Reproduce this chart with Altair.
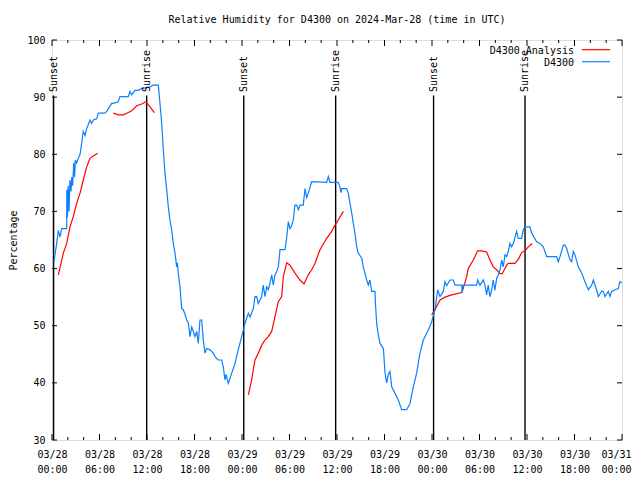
import altair as alt
import pandas as pd

# ---------------- data (hours since 03/28 00:00 UTC, relative humidity %) ----------------
obs_day1 = [(0.25,61.2),(0.59,64.4),(0.80,66.7),(1.01,65.5),(1.23,67.0),(1.86,67.0),(1.87,73.8),(1.95,69.0),
            (2.05,74.5),(2.15,70.0),(2.27,75.5),(2.40,73.5),(2.50,76.0),(2.60,74.5),(2.75,78.5),(2.85,76.0),
            (2.95,79.0),(3.12,78.5),(3.32,79.3),(3.54,80.0),(3.75,81.9),(3.95,84.0),(4.17,83.3),(4.38,84.5),
            (4.59,85.2),(4.80,86.0),(5.01,85.4),(5.22,86.0),(5.65,86.2),(5.85,87.2),(6.69,87.2),(6.91,87.5),
            (7.54,88.9),(7.74,88.9),(8.37,89.2),(8.59,90.1),(9.64,90.1),(9.85,91.0),(10.07,90.4),(10.48,91.2),
            (10.90,91.2),(11.33,91.5),(12.38,91.8),(12.76,92.1),(13.43,92.1),(13.64,88.9),(13.86,85.4),
            (14.06,80.8),(14.27,76.7),(14.49,73.8),(14.69,70.8),(14.90,68.5),(15.12,66.8),(15.32,64.4),
            (15.54,62.7),(15.75,60.3),(15.83,61.0),(15.95,59.2),(16.17,56.8),(16.38,53.0),(16.58,52.8),
            (16.80,52.0),(17.01,51.0),(17.22,50.5),(17.43,48.1),(17.65,49.8),(17.85,49.0),(18.06,48.1),
            (18.28,49.0),(18.48,46.9),(18.69,51.0),(18.91,51.0),(19.11,47.5),(19.33,45.2),(19.54,46.0),
            (19.96,45.8),(20.37,45.2),(20.59,44.6),(20.97,44.0),(21.43,44.0),(21.64,42.8),(21.85,40.5),
            (21.98,41.5),(22.27,39.9),(22.70,41.7),(23.12,43.4),(23.53,45.8),(23.96,48.1)]
obs_day2 = [(24.38,50.4),(24.80,52.2),(25.01,51.5),(25.43,53.0),(25.64,55.1),(25.85,55.1),(26.06,53.9),
            (26.49,55.1),(26.69,57.1),(26.90,55.1),(27.12,56.8),(27.32,56.3),(27.54,57.5),(27.75,58.9),
            (27.95,57.1),(28.17,58.9),(28.38,59.5),(28.59,60.3),(28.80,63.3),(29.43,63.3),(29.65,65.5),
            (29.85,68.2),(30.06,67.0),(30.27,67.5),(30.48,68.5),(30.69,71.1),(30.91,71.1),(31.11,70.3),
            (31.32,71.1),(31.74,71.1),(31.96,74.0),(32.17,72.4),(32.37,73.2),(32.80,75.2),(34.70,75.1),
            (34.90,76.1),(35.11,75.1),(36.16,75.1),(36.37,74.3),(36.50,73.3),(36.60,74.0),(37.22,74.0),
            (37.43,73.2),(37.64,71.4),(37.86,69.7),(38.06,67.9),(38.27,66.2),(38.49,63.8),(38.69,62.7),
            (39.12,61.8),(39.32,60.3),(39.53,59.2),(39.75,58.0),(39.95,57.1),(40.16,58.0),(40.38,56.0),
            (40.80,56.0),(40.86,53.9),(41.01,50.4),(41.22,48.4),(41.43,46.9),(41.86,46.0),(42.07,41.7),
            (42.28,40.0),(42.48,41.5),(42.69,42.0),(42.91,39.3),(43.32,38.2),(43.74,37.0),(44.17,35.3),
            (44.80,35.3),(45.22,36.4),(45.64,39.3),(46.06,41.7),(46.48,45.2),(46.90,47.5),(47.33,48.7),
            (47.62,49.5),(47.96,50.7)]
obs_day3 = [(48.38,52.8),(48.72,56.3),(49.01,55.1),(49.43,56.0),(49.64,57.7),(49.85,57.0),(50.27,58.0),
            (50.69,58.0),(50.90,57.1),(51.75,57.1),(51.82,55.8),(51.95,57.1),(53.64,57.1),(53.76,58.0),
            (54.06,57.1),(54.48,58.0),(54.69,57.1),(54.90,55.4),(55.10,57.1),(55.32,55.1),(55.53,56.2),
            (55.74,58.0),(55.95,56.2),(56.17,58.3),(56.38,58.9),(56.59,59.8),(56.80,61.5),(57.00,60.3),
            (57.22,62.4),(57.43,62.1),(57.64,63.0),(57.85,64.4),(58.06,63.8),(58.27,64.4),(58.69,66.5),
            (58.90,65.3),(59.32,65.3),(59.53,66.8),(59.74,67.3),(60.37,67.3),(60.59,66.2),(61.22,64.7),
            (61.64,64.4),(62.06,63.8),(62.48,62.1),(63.75,62.1),(63.95,61.2),(64.17,62.1),(64.59,64.1),
            (64.80,64.1),(65.01,63.5),(65.43,61.5),(65.64,61.2),(65.85,63.0),(66.06,62.4),(66.48,60.3),
            (66.91,59.2),(67.32,57.7),(67.75,56.3),(68.17,57.1),(68.38,58.0),(68.80,56.2),(69.01,55.1),
            (69.43,56.0),(69.64,56.0),(69.85,55.1),(70.27,56.0),(70.48,55.1),(70.69,56.0),(71.11,56.3),
            (71.53,56.5),(71.74,57.7),(71.96,57.5)]

ana_seg1 = [(0.80,58.9),(1.43,62.7),(1.86,64.4),(2.27,67.3),(2.69,69.1),(3.12,71.4),(3.54,73.2),
            (3.95,75.5),(4.38,77.8),(4.80,79.3),(5.22,79.7),(5.77,80.2)]
ana_seg2 = [(7.74,87.2),(8.37,86.9),(9.00,86.9),(9.64,87.3),(10.07,87.6),(10.70,88.5),(11.33,88.8),
            (11.87,89.2),(12.38,88.3),(12.92,87.3)]
ana_seg3 = [(24.80,37.9),(25.22,40.5),(25.43,42.3),(25.64,44.0),(26.06,45.2),(26.49,46.6),(26.90,47.5),
            (27.32,48.1),(27.75,49.0),(28.17,51.6),(28.59,54.2),(29.01,55.1),(29.22,58.6),(29.65,61.0),
            (30.06,60.6),(30.69,59.2),(31.32,58.0),(31.83,57.3),(32.37,58.9),(32.80,59.8),(33.22,60.9),
            (33.85,63.3),(34.70,65.3),(35.33,66.5),(35.75,67.6),(36.16,68.5),(36.80,70.0)]
ana_seg4 = [(47.96,51.9),(48.38,52.8),(49.01,54.5),(49.64,55.0),(50.48,55.4),(51.75,55.8),(51.95,56.6),
            (52.38,58.6),(52.58,60.0),(53.22,61.5),(53.76,63.1),(54.27,63.1),(54.90,62.9),(55.32,61.5),
            (55.74,60.3),(56.17,59.8),(56.59,59.1),(56.88,59.1),(57.43,60.6),(57.64,60.9),(58.48,60.9),
            (58.90,61.6),(59.32,62.8),(59.74,63.1),(60.16,63.8),(60.67,64.4)]

event_hours = [0.2, 11.96, 24.22, 35.83, 48.2, 59.75]
event_labels = ["Sunset", "Sunrise", "Sunset", "Sunrise", "Sunset", "Sunrise"]

x_major = [0, 6, 12, 18, 24, 30, 36, 42, 48, 54, 60, 66, 72]
x_minor = [h for h in range(0, 73, 2) if h % 6 != 0]
y_major = [30, 40, 50, 60, 70, 80, 90, 100]

series_names = ["D4300 Analysis", "D4300"]
series_colors = ["#ff0000", "#0a80ff"]
title_text = "Relative Humidity for D4300 on 2024-Mar-28 (time in UTC)"

FONT = "DejaVu Sans Mono"
W, H = 570, 400

# ---------------- frames ----------------
obs = pd.DataFrame(obs_day1 + obs_day2 + obs_day3, columns=["hour", "value"])
ana_rows = []
for i, seg in enumerate([ana_seg1, ana_seg2, ana_seg3, ana_seg4]):
    for h, v in seg:
        ana_rows.append({"hour": h, "value": v, "seg": i})
ana = pd.DataFrame(ana_rows)
events = pd.DataFrame({"hour": event_hours, "label": event_labels})
xmaj = pd.DataFrame({"hour": x_major})
xmin = pd.DataFrame({"hour": x_minor})
ymaj = pd.DataFrame({"value": y_major})

xscale = alt.Scale(domain=[0, 72], nice=False, zero=False)
yscale = alt.Scale(domain=[30, 100], nice=False, zero=False)

label_expr = ("['03/' + (28 + floor(datum.value / 24)), "
              "((datum.value % 24) < 10 ? '0' : '') + (datum.value % 24) + ':00']")

x_axis = alt.Axis(values=x_major, labelExpr=label_expr, title=None, grid=False, ticks=False,
                  tickSize=0, domain=False, labelPadding=9, labelLineHeight=15,
                  labelFont=FONT, labelFontSize=10, labelColor="black", labelFlush=False,
                  labelOffset={"expr": "datum.value == 72 ? -6 : 0"})
y_axis = alt.Axis(values=y_major, title="Percentage", grid=False, ticks=False, tickSize=0,
                  domain=False, labelPadding=7, labelFont=FONT, labelFontSize=10, labelColor="black",
                  titleFont=FONT, titleFontSize=10, titleFontWeight="normal", titleColor="black",
                  titleX=-39, titleY=H / 2, titleBaseline="middle", titleAlign="center", titleAngle=270)

ev_rules = alt.Chart(events).mark_rule(color="black", strokeWidth=1.4).encode(
    x=alt.X("hour:Q", scale=xscale, axis=x_axis),
    y=alt.Y(datum=30, scale=yscale, axis=y_axis),
    y2=alt.Y2(datum=90.3),
)
ev_text = alt.Chart(events).mark_text(angle=270, align="left", baseline="middle",
                                      font=FONT, fontSize=10, color="black").encode(
    x=alt.X("hour:Q", scale=xscale),
    y=alt.Y(datum=90.9, scale=yscale),
    text="label:N",
)

ana_line = alt.Chart(ana).mark_line(color=series_colors[0], strokeWidth=1.2).encode(
    x=alt.X("hour:Q", scale=xscale),
    y=alt.Y("value:Q", scale=yscale),
    detail="seg:N",
)
obs_line = alt.Chart(obs).mark_line(color=series_colors[1], strokeWidth=1.2).encode(
    x=alt.X("hour:Q", scale=xscale),
    y=alt.Y("value:Q", scale=yscale),
)

# tick marks (inward, gnuplot style)
tick_b_maj = alt.Chart(xmaj).mark_rule(color="black").encode(
    x=alt.X("hour:Q", scale=xscale), y=alt.value(H), y2=alt.value(H - 6))
tick_t_maj = alt.Chart(xmaj).mark_rule(color="black").encode(
    x=alt.X("hour:Q", scale=xscale), y=alt.value(0), y2=alt.value(6))
tick_b_min = alt.Chart(xmin).mark_rule(color="black").encode(
    x=alt.X("hour:Q", scale=xscale), y=alt.value(H), y2=alt.value(H - 3))
tick_t_min = alt.Chart(xmin).mark_rule(color="black").encode(
    x=alt.X("hour:Q", scale=xscale), y=alt.value(0), y2=alt.value(3))
tick_l = alt.Chart(ymaj).mark_rule(color="black").encode(
    y=alt.Y("value:Q", scale=yscale), x=alt.value(0), x2=alt.value(5))
tick_r = alt.Chart(ymaj).mark_rule(color="black").encode(
    y=alt.Y("value:Q", scale=yscale), x=alt.value(W), x2=alt.value(W - 5))

# legend (gnuplot style: text then sample line)
legend_layers = []
for i, (name, col) in enumerate(zip(series_names, series_colors)):
    ty = 10.5 + 12 * i
    legend_layers.append(
        alt.Chart(pd.DataFrame({"name": [name]})).mark_text(
            align="right", baseline="middle", font=FONT, fontSize=10, color="black"
        ).encode(x=alt.value(522), y=alt.value(ty), text="name:N")
    )
    legend_layers.append(
        alt.Chart(pd.DataFrame({"name": [name]})).mark_rule(color=col, strokeWidth=1.2).encode(
            x=alt.value(530), x2=alt.value(558), y=alt.value(ty - 0.8))
    )

title_mark = alt.Chart(pd.DataFrame({"t": [title_text]})).mark_text(
    align="center", baseline="middle", font=FONT, fontSize=10, color="black"
).encode(x=alt.value(W / 2), y=alt.value(-20), text="t:N")

chart = alt.layer(
    ev_rules, ana_line, obs_line, ev_text,
    tick_b_maj, tick_t_maj, tick_b_min, tick_t_min, tick_l, tick_r,
    title_mark, *legend_layers,
).properties(
    width=W, height=H,
    autosize=alt.AutoSizeParams(type="none"),
    padding={"left": 44, "top": 32, "right": 10, "bottom": 38},
).configure_view(stroke="black", strokeWidth=1).configure(background="white")

chart.save("out.html", embed_options={"renderer": "svg", "actions": False})
